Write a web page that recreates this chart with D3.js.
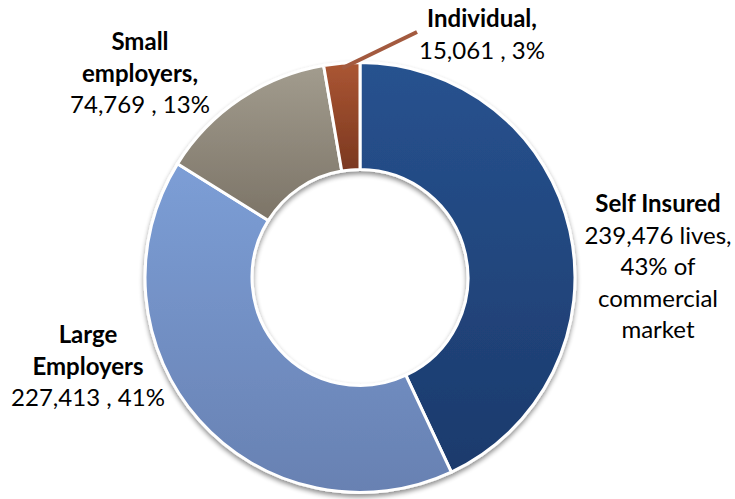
<!DOCTYPE html>
<html><head><meta charset="utf-8">
<script src="https://cdn.jsdelivr.net/npm/d3@7/dist/d3.min.js"></script>
<style>html,body{margin:0;padding:0;background:#fff;}svg{display:block;font-family:Lato,"Open Sans",sans-serif;}</style>
</head><body>
<svg id="c" width="735" height="499"></svg>
<script>
const categories = ["Self Insured", "Large Employers", "Small employers", "Individual"];
const values = [239476, 227413, 74769, 15061];
const percents = ["43%", "41%", "13%", "3%"];
const colorsTop = ["#27528f", "#7c9ed6", "#a29c8e", "#ab5633"];
const colorsBottom = ["#1c3a6c", "#6881b2", "#7c7467", "#7b3820"];
const labelBold = [["Self Insured"], ["Large", "Employers"], ["Small", "employers,"], ["Individual,"]];
const labelPlain = [["239,476 lives,", "43% of", "commercial", "market"], ["227,413 , 41%"], ["74,769 , 13%"], ["15,061 , 3%"]];

const svg = d3.select("#c");
const cx = 360, cy = 277.5, rOuter = 215, rInner = 108;
const defs = svg.append("defs");
categories.forEach((c, i) => {
  const g = defs.append("linearGradient").attr("id", "g" + i).attr("x1", 0).attr("y1", 0).attr("x2", 0).attr("y2", 1);
  g.append("stop").attr("offset", "0%").attr("stop-color", colorsTop[i]);
  g.append("stop").attr("offset", "100%").attr("stop-color", colorsBottom[i]);
});
const f = defs.append("filter").attr("id", "sh").attr("x", "-20%").attr("y", "-20%").attr("width", "140%").attr("height", "140%");
f.append("feGaussianBlur").attr("in", "SourceAlpha").attr("stdDeviation", 2.5);
f.append("feOffset").attr("dx", 0).attr("dy", 3).attr("result", "o");
f.append("feComponentTransfer").append("feFuncA").attr("type", "linear").attr("slope", 0.45);
const m = f.append("feMerge");
m.append("feMergeNode");
m.append("feMergeNode").attr("in", "SourceGraphic");

const pie = d3.pie().sort(null).value(d => d);
const arcs = pie(values);
const arc = d3.arc().innerRadius(rInner).outerRadius(rOuter);

const g = svg.append("g").attr("transform", `translate(${cx},${cy})`);
g.append("g").attr("filter", "url(#sh)")
  .selectAll("path").data(arcs).join("path")
  .attr("d", arc)
  .attr("fill", (d, i) => `url(#g${i})`)
  .attr("stroke", "#fff").attr("stroke-width", 3).attr("stroke-linejoin", "miter");

// leader line for Individual
const ind = arcs[3];
const midA = (ind.startAngle + ind.endAngle) / 2;
const lr = rOuter - 5;
g.append("line")
  .attr("x1", lr * Math.sin(midA)).attr("y1", -lr * Math.cos(midA))
  .attr("x2", 417 - cx).attr("y2", 32 - cy)
  .attr("stroke", "#a35a3f").attr("stroke-width", 4);

// labels
const labelPos = [[658, 212], [88, 343], [140, 50], [482, 27]];
const lh = 31.5;
const fs = 24;
categories.forEach((c, i) => {
  const t = svg.append("text").attr("text-anchor", "middle").attr("font-size", fs).attr("fill", "#000");
  let k = 0;
  labelBold[i].forEach(s => {
    t.append("tspan").attr("x", labelPos[i][0]).attr("y", labelPos[i][1] + k * lh).attr("font-weight", "bold").text(s);
    k++;
  });
  labelPlain[i].forEach(s => {
    t.append("tspan").attr("x", labelPos[i][0]).attr("y", labelPos[i][1] + k * lh).text(s);
    k++;
  });
});
</script>
</body></html>
